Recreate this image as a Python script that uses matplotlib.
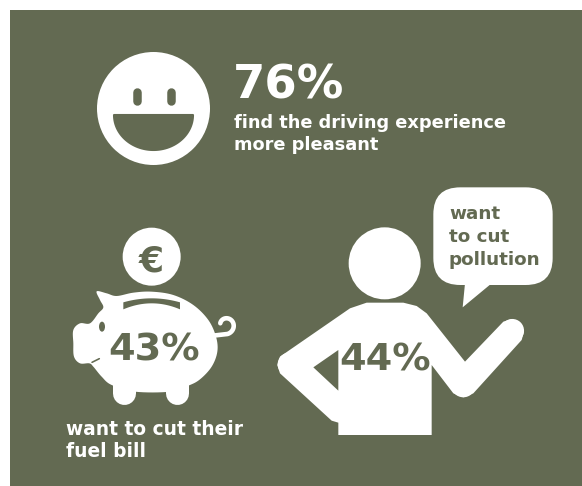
import numpy as np
import matplotlib
matplotlib.use("Agg")
import matplotlib.pyplot as plt
from matplotlib.patches import Circle, Ellipse, FancyBboxPatch, Polygon, Rectangle

# Values and labels
percents = [76, 43, 44]
captions = ["find the driving experience\nmore pleasant",
            "want to cut their\nfuel bill",
            "want\nto cut\npollution"]
currency = "€"

bg = "#636a52"
white = "#ffffff"
font = "DejaVu Sans"

fig = plt.figure(figsize=(5.82, 4.86), dpi=100, facecolor="white")
ax = fig.add_axes([0, 0, 1, 1])
ax.set_xlim(0, 582)
ax.set_ylim(486, 0)
ax.axis("off")

ax.add_patch(Rectangle((10, 10), 572, 476, fc=bg, ec="none"))


def pig(x, y):
    return 60 + x / 3, 220 + y / 3


def man(x, y):
    return 270 + x / 3, 180 + y / 3


def stroke(points, width, color=white):
    xs, ys = zip(*points)
    ax.plot(xs, ys, color=color, lw=width * 0.72, solid_capstyle="round",
            solid_joinstyle="round")


def smooth(points, n=8):
    # closed catmull-rom through the traced outline
    p = np.array(points, dtype=float)
    out = []
    for i in range(len(p)):
        a, b, c, d = p[i - 1], p[i], p[(i + 1) % len(p)], p[(i + 2) % len(p)]
        for s in np.linspace(0, 1, n, endpoint=False):
            out.append(0.5 * (2 * b + (c - a) * s + (2 * a - 5 * b + 4 * c - d) * s ** 2
                              + (3 * b - a - 3 * c + d) * s ** 3))
    return np.array(out)


# Smiley
ax.add_patch(Circle((153.5, 108.5), 56.5, fc=white, ec="none"))
for ex in (136.5, 171):
    stroke([(ex, 92), (ex, 101)], 8.5, bg)
angle = np.linspace(0, np.pi, 60)
mouth = np.column_stack([153.5 + 39.5 * np.cos(angle), 115 + 35 * np.sin(angle)])
ax.add_patch(Polygon(mouth, closed=True, fc=bg, ec=bg, lw=1.5, joinstyle="round"))

ax.text(233, 98, f"{percents[0]}%", color=white, fontsize=33.5, fontweight="bold",
        family=font, ha="left", va="baseline")
ax.text(234, 128, captions[0].split("\n")[0], color=white, fontsize=12.8,
        fontweight="bold", family=font, ha="left", va="baseline")
ax.text(234, 150, captions[0].split("\n")[1], color=white, fontsize=12.8,
        fontweight="bold", family=font, ha="left", va="baseline")

# Coin
ax.add_patch(Circle(pig(275, 110), 29, fc=white, ec="none"))
ax.text(*pig(275, 155), currency, color=bg, fontsize=26, fontweight="bold",
        family=font, ha="center", va="baseline")

# Pig
outline = [(110, 214), (140, 220), (170, 228), (220, 218), (275, 215), (340, 225), (400, 255),
           (445, 300), (468, 350), (472, 395), (455, 440), (420, 478), (385, 497), (330, 515),
           (225, 515), (155, 495), (125, 470), (100, 440), (88, 430), (60, 430), (42, 410),
           (40, 370), (40, 330), (60, 310), (90, 310), (115, 280), (130, 262), (120, 240)]
ax.add_patch(Polygon([pig(a, b) for a, b in smooth(outline)], closed=True, fc=white, ec="none"))
for lx in (191, 350):
    stroke([pig(lx, 490), pig(lx, 520)], 23)
t = np.linspace(0.2, 4.4, 40)
tail = [pig(497 + 28 * np.cos(a) * (1 - 0.09 * b), 315 + 28 * np.sin(a) * (1 - 0.09 * b))
        for a, b in zip(np.pi / 2 - t, t)]
stroke([pig(450, 348)] + tail, 4.6)
slot_x = np.linspace(190, 360, 30)
slot_top = 247 - 12 * (1 - ((slot_x - 275) / 85) ** 2)
slot_bottom = 268 - 18 * (1 - ((slot_x - 275) / 85) ** 2)
slot = [pig(a, b) for a, b in zip(slot_x, slot_top)]
slot += [pig(a, b) for a, b in zip(slot_x[::-1], slot_bottom[::-1])]
ax.add_patch(Polygon(slot, closed=True, fc=bg, ec="none"))
ax.add_patch(Ellipse(pig(126, 320), 6, 10, fc=bg, ec="none"))
stroke([pig(96, 427), pig(118, 416)], 1.6, bg)
ax.text(*pig(282, 420), f"{percents[1]}%", color=bg, fontsize=27.5, fontweight="bold",
        family=font, ha="center", va="baseline")
ax.text(66, 435, captions[1].split("\n")[0], color=white, fontsize=13.4,
        fontweight="bold", family=font, ha="left", va="baseline")
ax.text(66, 457, captions[1].split("\n")[1], color=white, fontsize=13.4,
        fontweight="bold", family=font, ha="left", va="baseline")

# Person
ax.add_patch(Circle(man(344, 250), 36, fc=white, ec="none"))
body = [man(205, 765), man(205, 728), man(185, 722), man(30, 580), man(22, 555), man(30, 530),
        man(240, 385), man(290, 368), man(400, 368), man(440, 378), man(470, 400),
        man(585, 545), man(700, 425), man(725, 417), man(750, 430), man(762, 455),
        man(755, 480), man(610, 640), man(580, 652), man(550, 640), man(485, 555),
        man(485, 765)]
ax.add_patch(Polygon(body, closed=True, fc=white, ec="none"))
ax.add_patch(Circle(man(727, 452), 11.7, fc=white, ec="none"))
ax.add_patch(Circle(man(580, 615), 12.3, fc=white, ec="none"))
ax.add_patch(Circle(man(58, 553), 11.7, fc=white, ec="none"))
ax.add_patch(Polygon([man(130, 562), man(205, 510), man(205, 632)], closed=True,
                     fc=bg, ec="none"))
ax.text(*man(346, 570), f"{percents[2]}%", color=bg, fontsize=27.5, fontweight="bold",
        family=font, ha="center", va="baseline")

# Speech bubble
x0, y0 = man(490, 22)
x1, y1 = man(848, 315)
ax.add_patch(FancyBboxPatch((x0, y0), x1 - x0, y1 - y0,
                            boxstyle="round,pad=0,rounding_size=27", fc=white, ec="none"))
ax.add_patch(Polygon([man(585, 310), man(578, 382), man(665, 310)], closed=True,
                     fc=white, ec="none"))
for line, by in zip(captions[2].split("\n"), (117, 185, 254)):
    ax.text(*man(537, by), line, color=bg, fontsize=13.2, fontweight="bold",
            family=font, ha="left", va="baseline")

fig.savefig("out.png", dpi=100, facecolor="white")
